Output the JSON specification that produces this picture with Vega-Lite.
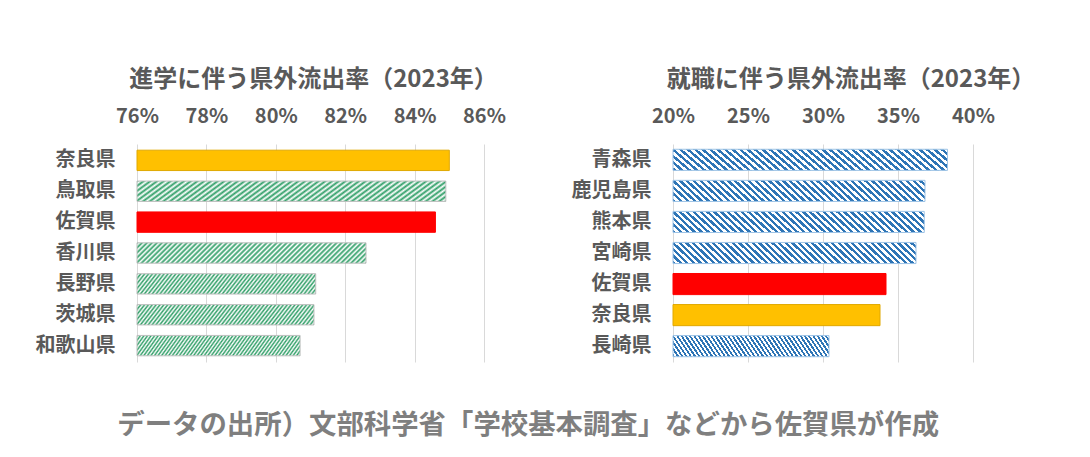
{
  "$schema": "https://vega.github.io/schema/vega-lite/v6.json",
  "background": "white",
  "padding": {"left": 35, "top": 68, "right": 40, "bottom": 14},
  "datasets": {
    "shingaku": [
      {"pref": "奈良県", "rate": 0.850},
      {"pref": "鳥取県", "rate": 0.849},
      {"pref": "佐賀県", "rate": 0.846},
      {"pref": "香川県", "rate": 0.826},
      {"pref": "長野県", "rate": 0.8115},
      {"pref": "茨城県", "rate": 0.811},
      {"pref": "和歌山県", "rate": 0.807}
    ],
    "shushoku": [
      {"pref": "青森県", "rate": 0.383},
      {"pref": "鹿児島県", "rate": 0.368},
      {"pref": "熊本県", "rate": 0.3675},
      {"pref": "宮崎県", "rate": 0.362},
      {"pref": "佐賀県", "rate": 0.342},
      {"pref": "奈良県", "rate": 0.338},
      {"pref": "長崎県", "rate": 0.304}
    ]
  },
  "title": {
    "text": "データの出所）文部科学省「学校基本調査」などから佐賀県が作成",
    "orient": "bottom",
    "anchor": "middle",
    "fontSize": 27.4,
    "fontWeight": "bold",
    "color": "#7F7F7F",
    "offset": 50,
    "dx": -7
  },
  "bounds": "flush",
  "spacing": 189,
  "hconcat": [
    {
      "width": 347,
      "height": 218,
      "title": {"text": "進学に伴う県外流出率（2023年）", "dx": 3},
      "data": {"name": "shingaku"},
      "mark": {"type": "bar", "strokeWidth": 1},
      "encoding": {
        "y": {
          "field": "pref", "type": "nominal", "sort": null,
          "scale": {"paddingInner": 0.34, "paddingOuter": 0.2},
          "axis": {"title": null, "grid": false, "labelPadding": 22}
        },
        "x": {
          "field": "rate", "type": "quantitative",
          "scale": {"domain": [0.76, 0.86], "zero": false, "nice": false},
          "axis": {"orient": "top", "title": null, "format": ".0%", "values": [0.76, 0.78, 0.8, 0.82, 0.84, 0.86], "labelPadding": 18, "labelFlush": false, "labelOverlap": false}
        },
        "x2": {"datum": 0.76},
        "fill": {
          "condition": [
            {"test": "datum.pref === '奈良県'", "value": "#FFC000"},
            {"test": "datum.pref === '佐賀県'", "value": "#FF0000"}
          ],
          "value": {
            "gradient": "linear", "x1": 0, "y1": 0, "x2": 1.081, "y2": 0.097,
            "stops": [
              {"offset": 0, "color": "#2E9E66"}, {"offset": 0.01, "color": "#fff"},
              {"offset": 0.02, "color": "#2E9E66"}, {"offset": 0.03, "color": "#fff"},
              {"offset": 0.04, "color": "#2E9E66"}, {"offset": 0.05, "color": "#fff"},
              {"offset": 0.06, "color": "#2E9E66"}, {"offset": 0.07, "color": "#fff"},
              {"offset": 0.08, "color": "#2E9E66"}, {"offset": 0.09, "color": "#fff"},
              {"offset": 0.10, "color": "#2E9E66"}, {"offset": 0.11, "color": "#fff"},
              {"offset": 0.12, "color": "#2E9E66"}, {"offset": 0.13, "color": "#fff"},
              {"offset": 0.14, "color": "#2E9E66"}, {"offset": 0.15, "color": "#fff"},
              {"offset": 0.16, "color": "#2E9E66"}, {"offset": 0.17, "color": "#fff"},
              {"offset": 0.18, "color": "#2E9E66"}, {"offset": 0.19, "color": "#fff"},
              {"offset": 0.20, "color": "#2E9E66"}, {"offset": 0.21, "color": "#fff"},
              {"offset": 0.22, "color": "#2E9E66"}, {"offset": 0.23, "color": "#fff"},
              {"offset": 0.24, "color": "#2E9E66"}, {"offset": 0.25, "color": "#fff"},
              {"offset": 0.26, "color": "#2E9E66"}, {"offset": 0.27, "color": "#fff"},
              {"offset": 0.28, "color": "#2E9E66"}, {"offset": 0.29, "color": "#fff"},
              {"offset": 0.30, "color": "#2E9E66"}, {"offset": 0.31, "color": "#fff"},
              {"offset": 0.32, "color": "#2E9E66"}, {"offset": 0.33, "color": "#fff"},
              {"offset": 0.34, "color": "#2E9E66"}, {"offset": 0.35, "color": "#fff"},
              {"offset": 0.36, "color": "#2E9E66"}, {"offset": 0.37, "color": "#fff"},
              {"offset": 0.38, "color": "#2E9E66"}, {"offset": 0.39, "color": "#fff"},
              {"offset": 0.40, "color": "#2E9E66"}, {"offset": 0.41, "color": "#fff"},
              {"offset": 0.42, "color": "#2E9E66"}, {"offset": 0.43, "color": "#fff"},
              {"offset": 0.44, "color": "#2E9E66"}, {"offset": 0.45, "color": "#fff"},
              {"offset": 0.46, "color": "#2E9E66"}, {"offset": 0.47, "color": "#fff"},
              {"offset": 0.48, "color": "#2E9E66"}, {"offset": 0.49, "color": "#fff"},
              {"offset": 0.50, "color": "#2E9E66"}, {"offset": 0.51, "color": "#fff"},
              {"offset": 0.52, "color": "#2E9E66"}, {"offset": 0.53, "color": "#fff"},
              {"offset": 0.54, "color": "#2E9E66"}, {"offset": 0.55, "color": "#fff"},
              {"offset": 0.56, "color": "#2E9E66"}, {"offset": 0.57, "color": "#fff"},
              {"offset": 0.58, "color": "#2E9E66"}, {"offset": 0.59, "color": "#fff"},
              {"offset": 0.60, "color": "#2E9E66"}, {"offset": 0.61, "color": "#fff"},
              {"offset": 0.62, "color": "#2E9E66"}, {"offset": 0.63, "color": "#fff"},
              {"offset": 0.64, "color": "#2E9E66"}, {"offset": 0.65, "color": "#fff"},
              {"offset": 0.66, "color": "#2E9E66"}, {"offset": 0.67, "color": "#fff"},
              {"offset": 0.68, "color": "#2E9E66"}, {"offset": 0.69, "color": "#fff"},
              {"offset": 0.70, "color": "#2E9E66"}, {"offset": 0.71, "color": "#fff"},
              {"offset": 0.72, "color": "#2E9E66"}, {"offset": 0.73, "color": "#fff"},
              {"offset": 0.74, "color": "#2E9E66"}, {"offset": 0.75, "color": "#fff"},
              {"offset": 0.76, "color": "#2E9E66"}, {"offset": 0.77, "color": "#fff"},
              {"offset": 0.78, "color": "#2E9E66"}, {"offset": 0.79, "color": "#fff"},
              {"offset": 0.80, "color": "#2E9E66"}, {"offset": 0.81, "color": "#fff"},
              {"offset": 0.82, "color": "#2E9E66"}, {"offset": 0.83, "color": "#fff"},
              {"offset": 0.84, "color": "#2E9E66"}, {"offset": 0.85, "color": "#fff"},
              {"offset": 0.86, "color": "#2E9E66"}, {"offset": 0.87, "color": "#fff"},
              {"offset": 0.88, "color": "#2E9E66"}, {"offset": 0.89, "color": "#fff"},
              {"offset": 0.90, "color": "#2E9E66"}, {"offset": 0.91, "color": "#fff"},
              {"offset": 0.92, "color": "#2E9E66"}, {"offset": 0.93, "color": "#fff"},
              {"offset": 0.94, "color": "#2E9E66"}, {"offset": 0.95, "color": "#fff"},
              {"offset": 0.96, "color": "#2E9E66"}, {"offset": 0.97, "color": "#fff"},
              {"offset": 0.98, "color": "#2E9E66"}, {"offset": 0.99, "color": "#fff"},
              {"offset": 1, "color": "#2E9E66"}
            ]
          }
        },
        "stroke": {
          "condition": [
            {"test": "datum.pref === '奈良県'", "value": "#E0A800"},
            {"test": "datum.pref === '佐賀県'", "value": "#FF0000"}
          ],
          "value": "#BFBFBF"
        }
      }
    },
    {
      "width": 300,
      "height": 218,
      "title": {"text": "就職に伴う県外流出率（2023年）", "dx": 28},
      "data": {"name": "shushoku"},
      "mark": {"type": "bar", "strokeWidth": 1},
      "encoding": {
        "y": {
          "field": "pref", "type": "nominal", "sort": null,
          "scale": {"paddingInner": 0.32, "paddingOuter": 0.17},
          "axis": {"title": null, "grid": false, "labelPadding": 22}
        },
        "x": {
          "field": "rate", "type": "quantitative",
          "scale": {"domain": [0.2, 0.4], "zero": false, "nice": false},
          "axis": {"orient": "top", "title": null, "format": ".0%", "values": [0.2, 0.25, 0.3, 0.35, 0.4], "labelPadding": 18, "labelFlush": false, "labelOverlap": false}
        },
        "x2": {"datum": 0.2},
        "fill": {
          "condition": [
            {"test": "datum.pref === '奈良県'", "value": "#FFC000"},
            {"test": "datum.pref === '佐賀県'", "value": "#FF0000"}
          ],
          "value": {
            "gradient": "linear", "x1": 0, "y1": 1, "x2": 1.081, "y2": 0.903,
            "stops": [
              {"offset": 0, "color": "#2E75B6"}, {"offset": 0.0125, "color": "#2E75B6"}, {"offset": 0.0125, "color": "#fff"}, {"offset": 0.025, "color": "#fff"},
              {"offset": 0.025, "color": "#2E75B6"}, {"offset": 0.0375, "color": "#2E75B6"}, {"offset": 0.0375, "color": "#fff"}, {"offset": 0.05, "color": "#fff"},
              {"offset": 0.05, "color": "#2E75B6"}, {"offset": 0.0625, "color": "#2E75B6"}, {"offset": 0.0625, "color": "#fff"}, {"offset": 0.075, "color": "#fff"},
              {"offset": 0.075, "color": "#2E75B6"}, {"offset": 0.0875, "color": "#2E75B6"}, {"offset": 0.0875, "color": "#fff"}, {"offset": 0.1, "color": "#fff"},
              {"offset": 0.1, "color": "#2E75B6"}, {"offset": 0.1125, "color": "#2E75B6"}, {"offset": 0.1125, "color": "#fff"}, {"offset": 0.125, "color": "#fff"},
              {"offset": 0.125, "color": "#2E75B6"}, {"offset": 0.1375, "color": "#2E75B6"}, {"offset": 0.1375, "color": "#fff"}, {"offset": 0.15, "color": "#fff"},
              {"offset": 0.15, "color": "#2E75B6"}, {"offset": 0.1625, "color": "#2E75B6"}, {"offset": 0.1625, "color": "#fff"}, {"offset": 0.175, "color": "#fff"},
              {"offset": 0.175, "color": "#2E75B6"}, {"offset": 0.1875, "color": "#2E75B6"}, {"offset": 0.1875, "color": "#fff"}, {"offset": 0.2, "color": "#fff"},
              {"offset": 0.2, "color": "#2E75B6"}, {"offset": 0.2125, "color": "#2E75B6"}, {"offset": 0.2125, "color": "#fff"}, {"offset": 0.225, "color": "#fff"},
              {"offset": 0.225, "color": "#2E75B6"}, {"offset": 0.2375, "color": "#2E75B6"}, {"offset": 0.2375, "color": "#fff"}, {"offset": 0.25, "color": "#fff"},
              {"offset": 0.25, "color": "#2E75B6"}, {"offset": 0.2625, "color": "#2E75B6"}, {"offset": 0.2625, "color": "#fff"}, {"offset": 0.275, "color": "#fff"},
              {"offset": 0.275, "color": "#2E75B6"}, {"offset": 0.2875, "color": "#2E75B6"}, {"offset": 0.2875, "color": "#fff"}, {"offset": 0.3, "color": "#fff"},
              {"offset": 0.3, "color": "#2E75B6"}, {"offset": 0.3125, "color": "#2E75B6"}, {"offset": 0.3125, "color": "#fff"}, {"offset": 0.325, "color": "#fff"},
              {"offset": 0.325, "color": "#2E75B6"}, {"offset": 0.3375, "color": "#2E75B6"}, {"offset": 0.3375, "color": "#fff"}, {"offset": 0.35, "color": "#fff"},
              {"offset": 0.35, "color": "#2E75B6"}, {"offset": 0.3625, "color": "#2E75B6"}, {"offset": 0.3625, "color": "#fff"}, {"offset": 0.375, "color": "#fff"},
              {"offset": 0.375, "color": "#2E75B6"}, {"offset": 0.3875, "color": "#2E75B6"}, {"offset": 0.3875, "color": "#fff"}, {"offset": 0.4, "color": "#fff"},
              {"offset": 0.4, "color": "#2E75B6"}, {"offset": 0.4125, "color": "#2E75B6"}, {"offset": 0.4125, "color": "#fff"}, {"offset": 0.425, "color": "#fff"},
              {"offset": 0.425, "color": "#2E75B6"}, {"offset": 0.4375, "color": "#2E75B6"}, {"offset": 0.4375, "color": "#fff"}, {"offset": 0.45, "color": "#fff"},
              {"offset": 0.45, "color": "#2E75B6"}, {"offset": 0.4625, "color": "#2E75B6"}, {"offset": 0.4625, "color": "#fff"}, {"offset": 0.475, "color": "#fff"},
              {"offset": 0.475, "color": "#2E75B6"}, {"offset": 0.4875, "color": "#2E75B6"}, {"offset": 0.4875, "color": "#fff"}, {"offset": 0.5, "color": "#fff"},
              {"offset": 0.5, "color": "#2E75B6"}, {"offset": 0.5125, "color": "#2E75B6"}, {"offset": 0.5125, "color": "#fff"}, {"offset": 0.525, "color": "#fff"},
              {"offset": 0.525, "color": "#2E75B6"}, {"offset": 0.5375, "color": "#2E75B6"}, {"offset": 0.5375, "color": "#fff"}, {"offset": 0.55, "color": "#fff"},
              {"offset": 0.55, "color": "#2E75B6"}, {"offset": 0.5625, "color": "#2E75B6"}, {"offset": 0.5625, "color": "#fff"}, {"offset": 0.575, "color": "#fff"},
              {"offset": 0.575, "color": "#2E75B6"}, {"offset": 0.5875, "color": "#2E75B6"}, {"offset": 0.5875, "color": "#fff"}, {"offset": 0.6, "color": "#fff"},
              {"offset": 0.6, "color": "#2E75B6"}, {"offset": 0.6125, "color": "#2E75B6"}, {"offset": 0.6125, "color": "#fff"}, {"offset": 0.625, "color": "#fff"},
              {"offset": 0.625, "color": "#2E75B6"}, {"offset": 0.6375, "color": "#2E75B6"}, {"offset": 0.6375, "color": "#fff"}, {"offset": 0.65, "color": "#fff"},
              {"offset": 0.65, "color": "#2E75B6"}, {"offset": 0.6625, "color": "#2E75B6"}, {"offset": 0.6625, "color": "#fff"}, {"offset": 0.675, "color": "#fff"},
              {"offset": 0.675, "color": "#2E75B6"}, {"offset": 0.6875, "color": "#2E75B6"}, {"offset": 0.6875, "color": "#fff"}, {"offset": 0.7, "color": "#fff"},
              {"offset": 0.7, "color": "#2E75B6"}, {"offset": 0.7125, "color": "#2E75B6"}, {"offset": 0.7125, "color": "#fff"}, {"offset": 0.725, "color": "#fff"},
              {"offset": 0.725, "color": "#2E75B6"}, {"offset": 0.7375, "color": "#2E75B6"}, {"offset": 0.7375, "color": "#fff"}, {"offset": 0.75, "color": "#fff"},
              {"offset": 0.75, "color": "#2E75B6"}, {"offset": 0.7625, "color": "#2E75B6"}, {"offset": 0.7625, "color": "#fff"}, {"offset": 0.775, "color": "#fff"},
              {"offset": 0.775, "color": "#2E75B6"}, {"offset": 0.7875, "color": "#2E75B6"}, {"offset": 0.7875, "color": "#fff"}, {"offset": 0.8, "color": "#fff"},
              {"offset": 0.8, "color": "#2E75B6"}, {"offset": 0.8125, "color": "#2E75B6"}, {"offset": 0.8125, "color": "#fff"}, {"offset": 0.825, "color": "#fff"},
              {"offset": 0.825, "color": "#2E75B6"}, {"offset": 0.8375, "color": "#2E75B6"}, {"offset": 0.8375, "color": "#fff"}, {"offset": 0.85, "color": "#fff"},
              {"offset": 0.85, "color": "#2E75B6"}, {"offset": 0.8625, "color": "#2E75B6"}, {"offset": 0.8625, "color": "#fff"}, {"offset": 0.875, "color": "#fff"},
              {"offset": 0.875, "color": "#2E75B6"}, {"offset": 0.8875, "color": "#2E75B6"}, {"offset": 0.8875, "color": "#fff"}, {"offset": 0.9, "color": "#fff"},
              {"offset": 0.9, "color": "#2E75B6"}, {"offset": 0.9125, "color": "#2E75B6"}, {"offset": 0.9125, "color": "#fff"}, {"offset": 0.925, "color": "#fff"},
              {"offset": 0.925, "color": "#2E75B6"}, {"offset": 0.9375, "color": "#2E75B6"}, {"offset": 0.9375, "color": "#fff"}, {"offset": 0.95, "color": "#fff"},
              {"offset": 0.95, "color": "#2E75B6"}, {"offset": 0.9625, "color": "#2E75B6"}, {"offset": 0.9625, "color": "#fff"}, {"offset": 0.975, "color": "#fff"},
              {"offset": 0.975, "color": "#2E75B6"}, {"offset": 0.9875, "color": "#2E75B6"}, {"offset": 0.9875, "color": "#fff"}, {"offset": 1, "color": "#fff"}
            ]
          }
        },
        "stroke": {
          "condition": [
            {"test": "datum.pref === '奈良県'", "value": "#E0A800"},
            {"test": "datum.pref === '佐賀県'", "value": "#FF0000"}
          ],
          "value": "#9DC3E6"
        }
      }
    }
  ],
  "config": {
    "font": "Noto Sans CJK JP",
    "view": {"stroke": null},
    "title": {"fontSize": 24, "fontWeight": "bold", "color": "#595959", "anchor": "middle", "offset": 14, "font": "Noto Sans CJK JP"},
    "axis": {
      "labelFont": "Noto Sans CJK JP",
      "labelFontSize": 20,
      "labelFontWeight": "bold",
      "labelColor": "#595959",
      "domain": false,
      "ticks": false,
      "tickSize": 0,
      "gridColor": "#D9D9D9",
      "gridWidth": 1
    }
  }
}
